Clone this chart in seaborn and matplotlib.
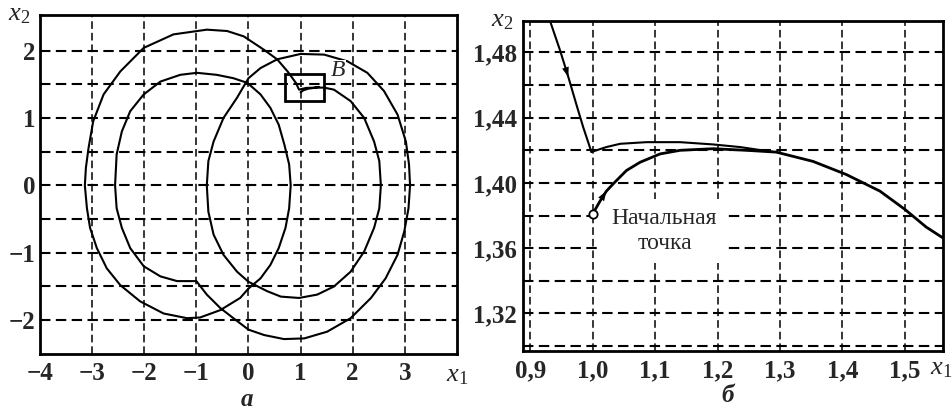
import numpy as np
import pandas as pd
import seaborn as sns
import matplotlib.pyplot as plt
from matplotlib.patches import Rectangle
from matplotlib.ticker import FixedLocator, FuncFormatter

# panel a: phase trajectory (clockwise spiral)
traj_x1 = [1.00, 1.05, 1.15, 1.30, 1.45, 1.64, 1.96, 2.22, 2.41, 2.51, 2.54, 2.51, 2.41, 2.22, 1.96,
           1.64, 1.32, 0.97, 0.62, 0.36, 0.00, -0.22, -0.48, -0.67, -0.77, -0.80, -0.77, -0.67,
           -0.48, -0.22, 0.00, 0.23, 0.55, 1.00, 1.45, 1.90, 2.28, 2.60, 2.86, 3.02, 3.08, 3.10,
           3.07, 2.99, 2.86, 2.63, 2.35, 1.96, 1.51, 1.07, 0.68, 0.30, 0.00, -0.29, -0.54, -0.80,
           -1.00, -1.37, -1.69, -2.01, -2.27, -2.43, -2.53, -2.56, -2.53, -2.43, -2.27, -2.01,
           -1.69, -1.31, -0.99, -0.61, -0.29, -0.02, 0.23, 0.42, 0.58, 0.69, 0.78, 0.81, 0.78,
           0.71, 0.58, 0.42, 0.23, 0.00, -0.16, -0.54, -0.93, -1.18, -1.63, -2.08, -2.46, -2.72,
           -2.91, -3.04, -3.10, -3.14, -3.12, -3.07, -2.98, -2.78, -2.46, -2.01, -1.44, -0.80,
           -0.41, -0.09, 0.30, 0.55, 0.75, 0.91, 0.97, 1.10, 1.25, 1.35]
traj_x2 = [1.38, 1.41, 1.435, 1.45, 1.45, 1.42, 1.25, 1.00, 0.65, 0.36, 0.00, -0.34, -0.63, -0.98,
           -1.28, -1.50, -1.62, -1.67, -1.65, -1.57, -1.43, -1.28, -1.03, -0.73, -0.39, 0.00,
           0.36, 0.65, 1.00, 1.30, 1.59, 1.74, 1.87, 1.95, 1.94, 1.84, 1.67, 1.40, 1.05, 0.65,
           0.31, 0.00, -0.34, -0.68, -1.03, -1.38, -1.67, -1.97, -2.17, -2.27, -2.28, -2.22,
           -2.14, -1.97, -1.82, -1.62, -1.42, -1.42, -1.35, -1.20, -0.93, -0.63, -0.34, 0.00,
           0.46, 0.80, 1.10, 1.35, 1.54, 1.64, 1.67, 1.64, 1.59, 1.52, 1.35, 1.15, 0.90, 0.60,
           0.31, 0.00, -0.34, -0.63, -0.93, -1.18, -1.38, -1.53, -1.67, -1.85, -1.96, -1.97,
           -1.90, -1.72, -1.48, -1.23, -0.93, -0.63, -0.34, 0.00, 0.26, 0.55, 0.95, 1.35, 1.69,
           2.04, 2.24, 2.31, 2.29, 2.21, 2.01, 1.87, 1.69, 1.52, 1.42, 1.445, 1.45, 1.46]

# zoom box "B" (x1, x2 corner and size)
box_b = [0.70, 1.25, 0.74, 0.40]

# panel b: detail of box B
desc_x1 = [0.932, 0.948, 0.961, 0.974, 0.985, 0.998]
desc_x2 = [1.499, 1.481, 1.465, 1.448, 1.434, 1.419]
upper_x1 = [0.998, 1.022, 1.044, 1.086, 1.140, 1.193, 1.236, 1.289]
upper_x2 = [1.419, 1.422, 1.424, 1.425, 1.425, 1.4236, 1.422, 1.419]
lower_x1 = [1.000, 1.012, 1.022, 1.033, 1.054, 1.076, 1.108, 1.140, 1.193, 1.246, 1.294,
            1.353, 1.406, 1.460, 1.500, 1.534, 1.565]
lower_x2 = [1.381, 1.389, 1.395, 1.3995, 1.4076, 1.4127, 1.4178, 1.420, 1.421, 1.420, 1.4189,
            1.4132, 1.4052, 1.395, 1.3838, 1.373, 1.3653]

a_xticks = [-4, -3, -2, -1, 0, 1, 2, 3]
a_yticks = [-2, -1, 0, 1, 2]
a_ygrid = [-2.0, -1.5, -1.0, -0.5, 0.0, 0.5, 1.0, 1.5, 2.0]
b_xticks = [0.9, 1.0, 1.1, 1.2, 1.3, 1.4, 1.5]
b_yticks = [1.32, 1.36, 1.40, 1.44, 1.48]
b_ygrid = [1.30, 1.32, 1.34, 1.36, 1.38, 1.40, 1.42, 1.44, 1.46, 1.48]

sns.set_style("white")
plt.rcParams['font.family'] = ['Liberation Serif', 'DejaVu Serif']
plt.rcParams['mathtext.fontset'] = 'custom'
plt.rcParams['mathtext.rm'] = 'Liberation Serif'
plt.rcParams['mathtext.it'] = 'Liberation Serif:italic'

fig = plt.figure(figsize=(9.53, 4.12), dpi=100)
ax1 = fig.add_axes([0.042, 0.141, 0.4375, 0.823])
ax2 = fig.add_axes([0.5485, 0.148, 0.441, 0.802])

dash = (0, (5, 2.6))


def style_axes(ax, xgrid, ygrid, ypad):
    for s in ax.spines.values():
        s.set_linewidth(2.0)
        s.set_color('black')
        s.set_visible(True)
    for v in xgrid:
        ax.axvline(v, color='black', lw=1.1, ls=dash, zorder=0)
    for h in ygrid:
        ax.axhline(h, color='black', lw=1.5, ls=dash, zorder=0)
    ax.tick_params(length=0, labelsize=18)
    ax.tick_params(axis='x', pad=6)
    ax.tick_params(axis='y', pad=ypad)
    for lab in ax.get_xticklabels() + ax.get_yticklabels():
        lab.set_fontweight('bold')


# ---- panel a
df_a = pd.DataFrame({'x1': traj_x1, 'x2': traj_x2})
sns.lineplot(data=df_a, x='x1', y='x2', sort=False, estimator=None, color='black', lw=1.5, ax=ax1)
ax1.set_xlim(-4, 4)
ax1.set_ylim(-2.5, 2.53)
ax1.xaxis.set_major_locator(FixedLocator(a_xticks))
ax1.yaxis.set_major_locator(FixedLocator(a_yticks))
ax1.xaxis.set_major_formatter(FuncFormatter(lambda v, p: f"{v:g}".replace('-', '\u2212')))
ax1.yaxis.set_major_formatter(FuncFormatter(lambda v, p: f"{v:g}".replace('-', '\u2212')))
ax1.set_xlabel('')
ax1.set_ylabel('')
style_axes(ax1, a_xticks[1:], a_ygrid, 3)
ax1.add_patch(Rectangle((box_b[0], box_b[1]), box_b[2], box_b[3], fill=False, ec='black', lw=2.0, zorder=3))
ax1.text(box_b[0] + box_b[2] + 0.28, box_b[1] + box_b[3] + 0.05, 'B', fontsize=17,
         style='italic', ha='center', va='center',
         bbox=dict(facecolor='white', edgecolor='none', pad=0.5))

# ---- panel b
df_d = pd.DataFrame({'x1': desc_x1, 'x2': desc_x2})
df_u = pd.DataFrame({'x1': upper_x1, 'x2': upper_x2})
df_l = pd.DataFrame({'x1': lower_x1, 'x2': lower_x2})
for d, w in [(df_d, 1.5), (df_u, 1.5), (df_l, 2.0)]:
    sns.lineplot(data=d, x='x1', y='x2', sort=False, estimator=None, color='black', lw=w, ax=ax2)
ax2.set_xlim(0.888, 1.561)
ax2.set_ylim(1.297, 1.4995)
ax2.xaxis.set_major_locator(FixedLocator(b_xticks))
ax2.yaxis.set_major_locator(FixedLocator(b_yticks))
ax2.xaxis.set_major_formatter(FuncFormatter(lambda v, p: f"{v:.1f}".replace('.', ',')))
ax2.yaxis.set_major_formatter(FuncFormatter(lambda v, p: f"{v:.2f}".replace('.', ',')))
ax2.set_xlabel('')
ax2.set_ylabel('')
style_axes(ax2, b_xticks, b_ygrid, 4)

# direction arrows along the curves
for xs, ys, i in [(desc_x1, desc_x2, 1), (lower_x1, lower_x2, 1)]:
    ax2.annotate('', xy=(xs[i + 1], ys[i + 1]), xytext=(xs[i], ys[i]),
                 arrowprops=dict(arrowstyle='-|>,head_length=0.7,head_width=0.25', color='black',
                                 lw=0, shrinkA=0, shrinkB=0), zorder=4)
ax2.plot(lower_x1[0], lower_x2[0], 'o', ms=6, mfc='white', mec='black', mew=1.3, zorder=5)
ax2.text(1.115, 1.3705, 'Начальная\nточка', fontsize=17, ha='center', va='center',
         linespacing=1.2, bbox=dict(facecolor='white', edgecolor='none', pad=7), zorder=3)

# axis names and panel letters
for ax, xp, yp in [(ax1, 1.0, -0.065), (ax2, 0.995, -0.055)]:
    ax.text(xp, yp, r'$x_1$', transform=ax.transAxes, fontsize=19, ha='center', va='center')
for ax, xp, yp in [(ax1, -0.05, 1.0), (ax2, -0.05, 1.0)]:
    ax.text(xp, yp, r'$x_2$', transform=ax.transAxes, fontsize=19, ha='center', va='center')
fig.text(247 / 953, 1 - 400 / 412, 'а', fontsize=18, style='italic', weight='bold', ha='center', va='center')
fig.text(728 / 953, 1 - 396 / 412, 'б', fontsize=18, style='italic', weight='bold', ha='center', va='center')

fig.savefig('out.png', dpi=100)
